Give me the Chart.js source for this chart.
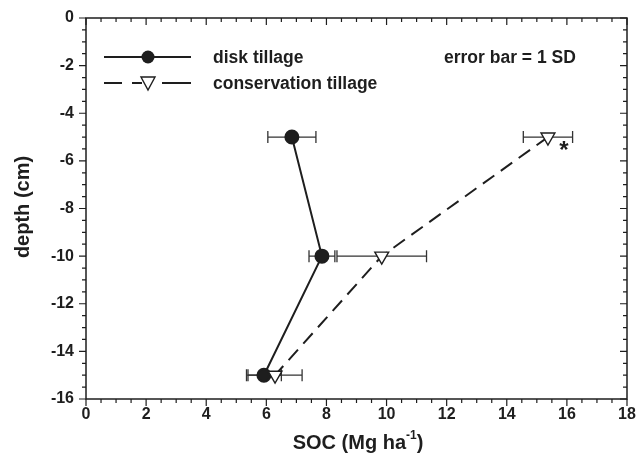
<!DOCTYPE html>
<html>
<head>
<meta charset="utf-8">
<script src="https://cdn.jsdelivr.net/npm/chart.js@4/dist/chart.umd.min.js"></script>
<style>
  html, body { margin: 0; padding: 0; background: #fff; }
  #wrap { width: 640px; height: 475px; }
</style>
</head>
<body>
<div id="wrap"><canvas id="chartCanvas" width="640" height="475"></canvas></div>
<script>
// depth profile of SOC
const depths = [-5, -10, -15];
const diskSOC = [6.85, 7.85, 5.92];
const diskSD = [0.80, 0.43, 0.58];
const consSOC = [15.37, 9.84, 6.29];
const consSD = [0.82, 1.49, 0.90];

const xTickLabels = [0, 2, 4, 6, 8, 10, 12, 14, 16, 18];
const yTickLabels = [0, -2, -4, -6, -8, -10, -12, -14, -16];

const ink = '#1e1e1e';
const fontFamily = '"Liberation Sans", Arial, sans-serif';

function toPoints(xs, ys) {
  return xs.map((x, i) => ({x: x, y: ys[i]}));
}

// horizontal error bars, drawn under the markers
const errorBars = {
  id: 'errorBars',
  beforeDatasetsDraw(chart) {
    const ctx = chart.ctx;
    const xs = chart.scales.x, ys = chart.scales.y;
    const sets = [[diskSOC, diskSD], [consSOC, consSD]];
    ctx.save();
    ctx.strokeStyle = '#333';
    ctx.lineWidth = 1.3;
    sets.forEach(([vals, sds]) => {
      vals.forEach((v, i) => {
        const y = ys.getPixelForValue(depths[i]);
        const x1 = xs.getPixelForValue(v - sds[i]);
        const x2 = xs.getPixelForValue(v + sds[i]);
        ctx.beginPath();
        ctx.moveTo(x1, y); ctx.lineTo(x2, y);
        ctx.moveTo(x1, y - 6); ctx.lineTo(x1, y + 6);
        ctx.moveTo(x2, y - 6); ctx.lineTo(x2, y + 6);
        ctx.stroke();
      });
    });
    ctx.restore();
  }
};

// frame, minor/major ticks, titles, legend, asterisk
const decorations = {
  id: 'decorations',
  afterDraw(chart) {
    const ctx = chart.ctx;
    const a = chart.chartArea;
    const xs = chart.scales.x, ys = chart.scales.y;
    ctx.save();
    ctx.strokeStyle = ink;
    ctx.lineWidth = 1.5;
    ctx.strokeRect(a.left, a.top, a.right - a.left, a.bottom - a.top);

    ctx.lineWidth = 1.2;
    ctx.beginPath();
    for (let v = 0; v <= 18.001; v += 0.5) {
      const x = xs.getPixelForValue(v);
      const len = (Math.round(v * 2) % 4 === 0) ? 7 : 4;
      ctx.moveTo(x, a.bottom); ctx.lineTo(x, a.bottom + len);
      ctx.moveTo(x, a.top); ctx.lineTo(x, a.top + len);
    }
    for (let v = 0; v >= -16.001; v -= 0.5) {
      const y = ys.getPixelForValue(v);
      const len = (Math.round(-v * 2) % 4 === 0) ? 7 : 4;
      ctx.moveTo(a.left, y); ctx.lineTo(a.left - len, y);
      ctx.moveTo(a.right, y); ctx.lineTo(a.right - len, y);
    }
    ctx.stroke();

    ctx.fillStyle = ink;
    // y title
    ctx.font = 'bold 20px ' + fontFamily;
    ctx.textAlign = 'center';
    ctx.textBaseline = 'middle';
    ctx.save();
    ctx.translate(23, 207);
    ctx.rotate(-Math.PI / 2);
    ctx.fillText('depth (cm)', 0, 0);
    ctx.restore();

    // x title with superscript
    const base = 'SOC (Mg ha', sup = '-1', tail = ')';
    ctx.font = 'bold 20px ' + fontFamily;
    const w1 = ctx.measureText(base).width;
    const w3 = ctx.measureText(tail).width;
    ctx.font = 'bold 12px ' + fontFamily;
    const w2 = ctx.measureText(sup).width;
    let x0 = 358 - (w1 + w2 + w3) / 2;
    const ty = 449;
    ctx.textAlign = 'left';
    ctx.textBaseline = 'alphabetic';
    ctx.font = 'bold 20px ' + fontFamily;
    ctx.fillText(base, x0, ty);
    ctx.font = 'bold 12px ' + fontFamily;
    ctx.fillText(sup, x0 + w1, ty - 10);
    ctx.font = 'bold 20px ' + fontFamily;
    ctx.fillText(tail, x0 + w1 + w2, ty);

    // legend
    ctx.lineWidth = 2;
    ctx.beginPath();
    ctx.moveTo(104, 57); ctx.lineTo(191, 57);
    ctx.stroke();
    ctx.beginPath();
    ctx.arc(148, 57, 6.5, 0, Math.PI * 2);
    ctx.fill();

    ctx.beginPath();
    ctx.moveTo(104, 83); ctx.lineTo(122, 83);
    ctx.moveTo(132, 83); ctx.lineTo(142, 83);
    ctx.moveTo(162, 83); ctx.lineTo(191, 83);
    ctx.stroke();
    ctx.fillStyle = '#fff';
    ctx.lineWidth = 1.4;
    ctx.beginPath();
    ctx.moveTo(141, 77); ctx.lineTo(155, 77); ctx.lineTo(148, 90); ctx.closePath();
    ctx.fill(); ctx.stroke();

    ctx.fillStyle = ink;
    ctx.font = 'bold 17.5px ' + fontFamily;
    ctx.textBaseline = 'middle';
    ctx.fillText('disk tillage', 213, 58);
    ctx.fillText('conservation tillage', 213, 84);
    ctx.fillText('error bar = 1 SD', 444, 58);

    // significance mark
    ctx.font = 'bold 24px ' + fontFamily;
    ctx.textAlign = 'center';
    ctx.fillText('*', xs.getPixelForValue(15.9), ys.getPixelForValue(-5.6));
    ctx.restore();
  }
};

const config = {
  type: 'scatter',
  data: {
    datasets: [
      {
        label: 'disk tillage',
        data: toPoints(diskSOC, depths),
        showLine: true,
        borderColor: ink,
        borderWidth: 2,
        pointStyle: 'circle',
        pointRadius: 6.5,
        pointBackgroundColor: ink,
        pointBorderColor: ink,
        order: 2,
      },
      {
        label: 'conservation tillage',
        data: toPoints(consSOC, depths),
        showLine: true,
        borderColor: ink,
        borderWidth: 2,
        borderDash: [14, 8],
        pointStyle: 'triangle',
        rotation: 180,
        pointRadius: 8,
        pointBorderWidth: 1.4,
        pointBackgroundColor: '#fff',
        pointBorderColor: ink,
        order: 1,
      },
    ],
  },
  options: {
    responsive: false,
    animation: false,
    layout: {padding: {top: 18, right: 13, left: 0, bottom: 0}},
    plugins: {
      legend: {display: false},
      tooltip: {enabled: false},
    },
    scales: {
      x: {
        type: 'linear',
        min: 0,
        max: 18,
        afterFit: scale => {
          scale.height = 76;
          scale.paddingLeft = 0;
          scale.paddingRight = 0;
        },
        afterBuildTicks: scale => { scale.ticks = xTickLabels.map(v => ({value: v})); },
        grid: {display: false, drawTicks: false},
        border: {display: false},
        ticks: {
          padding: 6,
          color: ink,
          font: {family: fontFamily, size: 16, weight: 'bold'},
        },
      },
      y: {
        type: 'linear',
        min: -16,
        max: 0,
        afterFit: scale => {
          scale.width = 86;
          scale.paddingTop = 0;
          scale.paddingBottom = 0;
        },
        afterBuildTicks: scale => { scale.ticks = yTickLabels.map(v => ({value: v})); },
        grid: {display: false, drawTicks: false},
        border: {display: false},
        ticks: {
          padding: 12,
          color: ink,
          font: {family: fontFamily, size: 16, weight: 'bold'},
        },
      },
    },
  },
  plugins: [errorBars, decorations],
};

const chartInstance = new Chart(document.getElementById('chartCanvas').getContext('2d'), config);
</script>
</body>
</html>
